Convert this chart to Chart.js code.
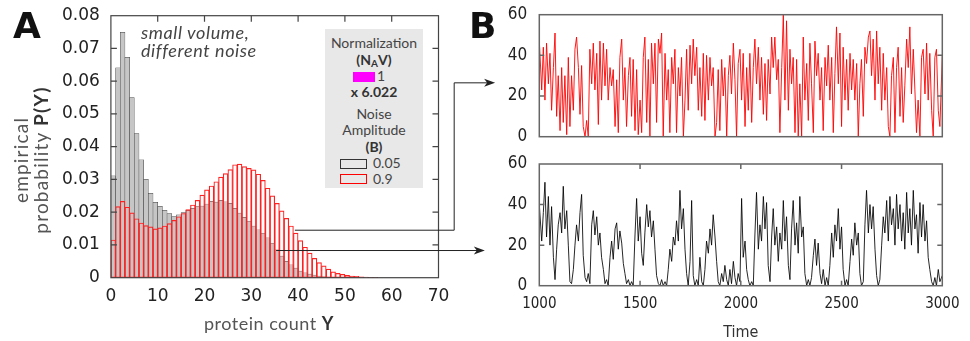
<!DOCTYPE html>
<html><head><meta charset="utf-8">
<script src="https://cdn.jsdelivr.net/npm/chart.js@4.4.1/dist/chart.umd.min.js"></script>
<style>
html,body{margin:0;padding:0;background:#fff;}
body{width:970px;height:341px;position:relative;overflow:hidden;font-family:Lato,'Noto Sans',sans-serif;}
.abs{position:absolute;}
canvas{display:block;}
.panel{font-family:'DejaVu Sans',sans-serif;font-weight:bold;font-size:36px;line-height:36px;color:#111;}
.note{font-style:italic;font-size:18px;line-height:18px;letter-spacing:0.6px;color:#444;white-space:nowrap;}
.axt{font-size:19px;line-height:20px;letter-spacing:1.2px;color:#555;text-align:center;white-space:nowrap;}
.axt b{color:#333;}
.axx{font-size:18px;line-height:20px;letter-spacing:0.5px;color:#555;text-align:center;white-space:nowrap;}
.axx b{color:#333;}
#legend{left:325px;top:29px;width:98px;height:159px;background:#e8e8e8;font-size:14px;color:#444;}
#legend .ln{position:absolute;left:0;width:98px;text-align:center;line-height:16px;white-space:nowrap;}
#legend .t{position:absolute;line-height:16px;white-space:nowrap;}
#legend b{color:#333;}
</style></head>
<body>
<div class="abs" style="left:0;top:0;width:520px;height:341px"><canvas id="cA" width="520" height="341"></canvas></div>
<div class="abs" style="left:460px;top:0;width:510px;height:150px"><canvas id="cB1" width="510" height="150"></canvas></div>
<div class="abs" style="left:460px;top:150px;width:510px;height:192px"><canvas id="cB2" width="510" height="192"></canvas></div>

<div class="abs panel" style="left:13px;top:8px">A</div>
<div class="abs panel" style="left:469px;top:8px">B</div>
<div class="abs note" style="left:141px;top:23px">small volume,<br>different noise</div>
<div class="abs axt" style="left:-69px;top:140px;width:200px;height:40px;transform:rotate(-90deg);">empirical<br>probability <b>P(Y)</b></div>
<div class="abs axx" style="left:169px;top:313px;width:200px;">protein count <b>Y</b></div>

<div id="legend" class="abs">
 <div class="ln" style="top:6px">Normalization</div>
 <div class="ln" style="top:23px"><b>(N<sub style="font-size:10px;vertical-align:-2px;line-height:0">A</sub>V)</b></div>
 <div class="abs" style="left:28px;top:43px;width:22px;height:10px;background:#ff00ff"></div>
 <div class="t" style="left:52px;top:39px">1</div>
 <div class="ln" style="top:55px"><b>x 6.022</b></div>
 <div class="ln" style="top:77px">Noise</div>
 <div class="ln" style="top:93px">Amplitude</div>
 <div class="ln" style="top:110px"><b>(B)</b></div>
 <div class="abs" style="left:15px;top:130px;width:27px;height:10px;border:1px solid #333;box-sizing:border-box"></div>
 <div class="t" style="left:48px;top:126px">0.05</div>
 <div class="abs" style="left:15px;top:145px;width:27px;height:10px;border:1px solid #f00;box-sizing:border-box"></div>
 <div class="t" style="left:48px;top:142px">0.9</div>
</div>

<script>
// ---------- Panel A: histogram data ----------
const binCenters = [0.5,1.5,2.5,3.5,4.5,5.5,6.5,7.5,8.5,9.5,10.5,11.5,12.5,13.5,14.5,15.5,16.5,17.5,18.5,19.5,
  20.5,21.5,22.5,23.5,24.5,25.5,26.5,27.5,28.5,29.5,30.5,31.5,32.5,33.5,34.5,35.5,36.5,37.5,38.5,39.5,
  40.5,41.5,42.5,43.5,44.5,45.5,46.5,47.5,48.5,49.5,50.5,51.5,52.5,53.5,54.5,55.5,56.5,57.5,58.5,59.5];
const probLowNoise = [0.0311,0.0641,0.0749,0.0673,0.0550,0.0440,0.0360,0.0300,0.0258,0.0230,
  0.0218,0.0206,0.0196,0.0187,0.0192,0.0199,0.0206,0.0212,0.0217,0.0219,
  0.0225,0.0233,0.0231,0.0236,0.0232,0.0227,0.0212,0.0197,0.0184,0.0171,
  0.0158,0.0146,0.0135,0.0122,0.0104,0.0085,0.0066,0.0050,0.0039,0.0029,
  0.0020,0.0015,0.0011,0.0008,0.0005,0.0003,0.0002,0.0001,0,0,
  0,0,0,0,0,0,0,0,0,0];
const probHighNoise = [0.0115,0.0217,0.0233,0.0215,0.0198,0.0180,0.0167,0.0159,0.0155,0.0149,
  0.0152,0.0158,0.0165,0.0175,0.0186,0.0196,0.0208,0.0222,0.0236,0.0252,
  0.0268,0.0280,0.0293,0.0307,0.0318,0.0330,0.0345,0.0347,0.0339,0.0334,
  0.0329,0.0316,0.0297,0.0273,0.0250,0.0227,0.0204,0.0181,0.0158,0.0136,
  0.0113,0.0093,0.0075,0.0059,0.0046,0.0036,0.0026,0.0018,0.0013,0.0010,
  0.0007,0.0005,0.0004,0.0003,0.0002,0.0001,0.0001,0,0,0];
const histXTicks = [0,10,20,30,40,50,60,70];
const histYTicks = [0,0.01,0.02,0.03,0.04,0.05,0.06,0.07,0.08];
// connector lines (in panel A data units)
const linkHighNoise = {x:[39.3,73.35,73.35,82.1], y:[0.0145,0.0145,0.0595,0.0595]};
const linkLowNoise = {x:[35.3,79.9], y:[0.0083,0.0083]};

// ---------- Panel B: time series ----------
const timeSamples = [1000,1012,1020,1028,1036,1045,1053,1061,1070,1078,
 1086,1094,1103,1111,1119,1127,1136,1144,1152,1160,
 1169,1177,1185,1194,1202,1210,1218,1227,1235,1243,
 1251,1260,1268,1276,1285,1293,1301,1309,1318,1326,
 1334,1342,1351,1359,1367,1376,1384,1392,1400,1409,
 1417,1425,1433,1442,1450,1458,1466,1475,1483,1491,
 1500,1508,1516,1524,1533,1541,1549,1557,1566,1574,
 1582,1591,1599,1607,1615,1624,1632,1640,1648,1657,
 1665,1673,1681,1690,1698,1706,1715,1723,1731,1739,
 1748,1756,1764,1772,1781,1789,1797,1806,1814,1822,
 1830,1839,1847,1855,1863,1872,1880,1888,1896,1905,
 1913,1921,1930,1938,1946,1954,1963,1971,1979,1987,
 1996,2004,2012,2021,2029,2037,2045,2054,2062,2070,
 2078,2087,2095,2103,2112,2120,2128,2136,2145,2153,
 2161,2169,2178,2186,2194,2203,2211,2219,2227,2236,
 2244,2252,2260,2269,2277,2285,2293,2302,2310,2318,
 2327,2335,2343,2351,2360,2368,2376,2384,2393,2401,
 2409,2418,2426,2434,2442,2451,2459,2467,2475,2484,
 2492,2500,2508,2517,2525,2533,2542,2550,2558,2566,
 2575,2583,2591,2599,2608,2616,2624,2633,2641,2649,
 2657,2666,2674,2682,2690,2699,2707,2715,2724,2732,
 2740,2748,2757,2765,2773,2781,2790,2798,2806,2814,
 2823,2831,2839,2847,2856,2864,2872,2880,2889,2897,
 2905,2914,2922,2930,2938,2947,2955,2963,2971,2980,
 2988,3000];
const countHighNoise = [47,23,44,18,46,26,41,13,34,51,
 10,30,3,34,7,30,1,39,5,30,
 13,43,49,34,11,35,5,0,8,0,
 43,26,46,23,41,6,47,18,46,25,
 43,18,34,25,33,5,28,2,39,48,
 18,34,5,30,39,10,38,3,33,1,
 18,2,39,49,7,38,0,46,26,46,
 7,48,41,51,0,41,18,33,2,39,
 26,43,2,34,20,39,0,18,43,13,
 45,26,48,30,44,13,34,10,41,8,
 40,18,39,25,34,0,7,33,3,38,
 20,34,0,30,40,21,46,28,0,36,
 43,18,41,5,34,13,41,7,34,48,
 26,44,18,39,11,36,8,38,21,49,
 34,49,28,38,2,34,60,18,57,13,
 43,26,39,2,38,0,26,0,49,18,
 36,8,46,26,2,47,30,41,18,34,
 3,39,25,45,18,39,2,31,54,26,
 51,5,44,18,38,13,41,23,38,18,
 36,0,26,38,10,44,36,49,52,30,
 48,18,52,26,44,13,41,18,34,5,
 0,30,39,2,34,44,10,34,7,25,
 48,34,54,21,43,23,2,18,0,39,
 43,21,46,18,41,13,0,39,43,13,
 5,40];
const countLowNoise = [40,22,36,51,24,44,20,39,14,3,
 18,30,36,26,49,28,37,20,2,1,
 8,20,30,22,36,45,15,4,2,6,
 1,30,37,25,34,20,26,14,8,1,
 3,0,14,22,13,28,31,18,27,21,
 11,6,1,3,0,2,0,25,43,22,
 34,16,10,26,40,29,37,24,32,18,
 5,1,0,3,0,2,0,8,18,12,
 24,20,32,22,47,28,38,18,6,0,
 12,42,5,0,3,0,14,2,0,8,
 22,16,28,20,35,24,12,2,0,6,
 2,10,3,0,8,1,12,4,0,6,
 2,43,14,22,8,3,0,2,0,25,
 46,18,30,22,44,28,41,10,2,24,
 38,20,29,12,26,18,42,22,34,10,
 3,28,42,20,31,16,44,24,29,6,
 0,3,0,4,15,23,10,21,6,1,
 8,0,4,0,10,26,14,30,22,38,
 18,29,8,0,3,0,12,23,15,31,
 20,26,6,0,2,30,47,26,40,28,
 39,18,5,0,3,20,34,26,42,22,
 44,30,38,20,45,28,40,22,36,18,
 46,26,38,20,47,28,35,16,41,24,
 40,22,32,14,8,2,0,4,0,8,
 2,5];
const timeTicks = [1000,1500,2000,2500,3000];
const countTicks = [0,20,40,60];

// ---------- plugins ----------
const frameTicks = {
  id:'frameTicks',
  afterDatasetsDraw(chart, args, o){
    const {ctx, chartArea:a, scales} = chart;
    ctx.save();
    ctx.strokeStyle = o.color; ctx.lineWidth = o.width;
    ctx.strokeRect(a.left, a.top, a.right-a.left, a.bottom-a.top);
    ctx.beginPath();
    const L = o.len;
    if (o.xTop || o.xBottom) {
      const xs = scales.x;
      xs.ticks.forEach(t=>{
        const p = xs.getPixelForValue(t.value);
        if (p <= a.left+1 || p >= a.right-1) return;
        if (o.xTop) { ctx.moveTo(p, a.top); ctx.lineTo(p, a.top+L); }
        if (o.xBottom) { ctx.moveTo(p, a.bottom); ctx.lineTo(p, a.bottom-L); }
      });
    }
    const ys = scales.y;
    ys.ticks.forEach(t=>{
      const p = ys.getPixelForValue(t.value);
      if (p <= a.top+1 || p >= a.bottom-1) return;
      ctx.moveTo(a.left, p); ctx.lineTo(a.left+L, p);
      ctx.moveTo(a.right, p); ctx.lineTo(a.right-L, p);
    });
    ctx.stroke();
    ctx.restore();
  }
};
const linkArrows = {
  id:'linkArrows',
  afterDraw(chart){
    const {ctx, scales:{x, y}} = chart;
    ctx.save();
    ctx.strokeStyle = '#222'; ctx.fillStyle = '#222'; ctx.lineWidth = 1;
    [linkHighNoise, linkLowNoise].forEach(l=>{
      const px = l.x.map(v=>x.getPixelForValue(v));
      const py = l.y.map(v=>y.getPixelForValue(v));
      const n = px.length-1;
      ctx.beginPath();
      ctx.moveTo(px[0], py[0]);
      for (let i=1;i<=n;i++) ctx.lineTo(i===n ? px[i]-6 : px[i], py[i]);
      ctx.stroke();
      ctx.beginPath();
      ctx.moveTo(px[n], py[n]);
      ctx.lineTo(px[n]-11, py[n]-4);
      ctx.lineTo(px[n]-8, py[n]);
      ctx.lineTo(px[n]-11, py[n]+4);
      ctx.closePath();
      ctx.fill();
    });
    ctx.restore();
  }
};

const tickFontA = {family:"'DejaVu Sans', sans-serif", size:17};
const tickFontB = {family:"'DejaVu Sans Condensed', 'DejaVu Sans', sans-serif", size:17};
const tickFontBx = {family:"'DejaVu Sans Condensed', 'DejaVu Sans', sans-serif", size:15};
const noVPad = (s, w) => { s.width = w; s.paddingTop = 0; s.paddingBottom = 0; };

// ---------- Chart A ----------
new Chart(document.getElementById('cA'), {
  type:'bar',
  data:{datasets:[
    {label:'0.9', data: binCenters.map((x,i)=>({x, y: probHighNoise[i]})),
     backgroundColor:'rgba(255,255,255,0)', borderColor:'#ff2020', borderWidth:0.5,
     borderSkipped:false, grouped:false, barPercentage:1, categoryPercentage:1},
    {label:'0.05', data: binCenters.map((x,i)=>({x, y: probLowNoise[i]})),
     backgroundColor:'#c6c6c6', borderColor:'#3c3c3c', borderWidth:0.5,
     borderSkipped:false, grouped:false, barPercentage:1, categoryPercentage:1}
  ]},
  options:{
    responsive:false, animation:false, devicePixelRatio:1,
    layout:{padding:{left:0, top:15.7, right:81.5, bottom:0}},
    plugins:{legend:{display:false}, tooltip:{enabled:false},
      frameTicks:{color:'#444', width:1.2, len:6, xTop:true, xBottom:false}},
    scales:{
      x:{type:'linear', min:0, max:70, offset:false,
         grid:{display:false, drawTicks:false}, border:{display:false},
         afterBuildTicks:s=>{s.ticks = histXTicks.map(v=>({value:v}));},
         afterFit:s=>{s.height = 63.3;},
         ticks:{autoSkip:false, maxRotation:0, padding:9, color:'#222', font:tickFontA,
           callback:v=>String(v)}},
      y:{type:'linear', min:0, max:0.08, stacked:false,
         grid:{display:false, drawTicks:false}, border:{display:false},
         afterBuildTicks:s=>{s.ticks = histYTicks.map(v=>({value:v}));},
         afterFit:s=>noVPad(s, 110.9),
         ticks:{padding:11, color:'#222', font:tickFontA,
           callback:v=> v===0 ? '0' : v.toFixed(2)}}
    }
  },
  plugins:[frameTicks, linkArrows]
});

// ---------- Chart B ----------
function seriesChart(id, values, color, showX, padTop, xHeight, padBottom){
  return new Chart(document.getElementById(id), {
    type:'line',
    data:{datasets:[{data: timeSamples.map((t,i)=>({x:t, y:values[i]})),
      borderColor:color, borderWidth:1, pointRadius:0, tension:0, fill:false}]},
    options:{
      responsive:false, animation:false, devicePixelRatio:1,
      layout:{padding:{left:0, top:padTop, right:27.7, bottom:padBottom}},
      plugins:{legend:{display:false}, tooltip:{enabled:false},
        frameTicks:{color:'#666', width:1.5, len:5, xTop:showX, xBottom:showX}},
      scales:{
        x:{type:'linear', min:1000, max:3000, display:showX,
           grid:{display:false, drawTicks:false}, border:{display:false},
           afterBuildTicks:s=>{s.ticks = timeTicks.map(v=>({value:v}));},
           afterFit:s=>{s.height = xHeight;},
           ticks:{autoSkip:false, maxRotation:0, padding:9, color:'#222', font:tickFontBx,
             callback:v=>String(v)},
           title:{display:showX, text:'Time', color:'#333', padding:{top:0,bottom:0},
             font:{family:"'DejaVu Sans Condensed', 'DejaVu Sans', sans-serif", size:16}}},
        y:{type:'linear', min:0, max:60,
           grid:{display:false, drawTicks:false}, border:{display:false},
           afterBuildTicks:s=>{s.ticks = countTicks.map(v=>({value:v}));},
           afterFit:s=>noVPad(s, 79.3),
           ticks:{padding:12, color:'#222', font:tickFontB, callback:v=>String(v)}}
      }
    },
    plugins:[frameTicks]
  });
}
seriesChart('cB1', countHighNoise, 'rgba(255,0,0,0.9)', false, 14.7, 0, 13.3);
seriesChart('cB2', countLowNoise, 'rgba(0,0,0,0.85)', true, 14, 56.3, 0);
</script>
</body></html>
